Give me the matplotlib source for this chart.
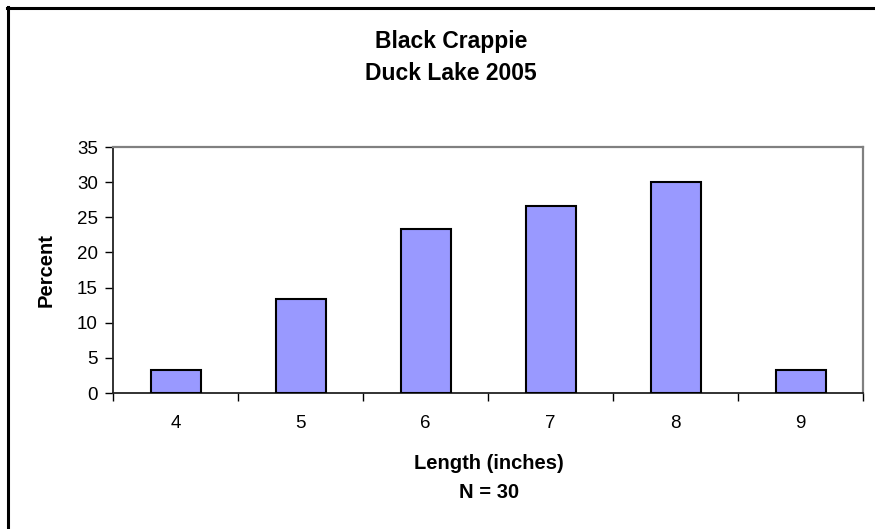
import matplotlib
matplotlib.use("Agg")
import matplotlib.pyplot as plt
from matplotlib.lines import Line2D

plt.rcParams['font.family'] = ['Liberation Sans', 'DejaVu Sans']

categories = ['4', '5', '6', '7', '8', '9']
percent = [3.33, 13.33, 23.33, 26.67, 30.0, 3.33]
yticks = [0, 5, 10, 15, 20, 25, 30, 35]
title_lines = ['Black Crappie', 'Duck Lake 2005']
xlabel_lines = ['Length (inches)', 'N = 30']
ylabel = 'Percent'

W, H = 875, 529
fig = plt.figure(figsize=(W / 100, H / 100), dpi=100)

def fx(px):
    return px / W

def fy(py):
    return 1 - py / H

# chart frame (left and top edges visible)
fig.lines.append(Line2D([fx(8), fx(8)], [fy(7), fy(H + 10)], transform=fig.transFigure,
                        color='black', linewidth=2.2))
fig.lines.append(Line2D([fx(7), fx(W + 10)], [fy(8), fy(8)], transform=fig.transFigure,
                        color='black', linewidth=2.2))

ax = fig.add_axes([fx(113), fy(393), fx(863) - fx(113), fy(147) - fy(393)])
x = list(range(len(categories)))
ax.bar(x, percent, width=0.4, color='#9999FF', edgecolor='black', linewidth=1.5, zorder=3)
ax.set_xlim(-0.5, len(categories) - 0.5)
ax.set_ylim(0, 35)
ax.set_yticks(yticks)
ax.set_yticklabels([str(v) for v in yticks], fontsize=13.5)
ax.set_xticks(x)
ax.set_xticklabels(categories, fontsize=13.5)
ax.tick_params(axis='x', length=0, pad=16)
ax.set_xticks([i - 0.5 for i in range(len(categories) + 1)], minor=True)
ax.tick_params(axis='x', which='minor', length=6, direction='out', color='black', width=1)
ax.tick_params(axis='y', length=6, direction='out', color='black', width=1, pad=5)
for s in ['top', 'right']:
    ax.spines[s].set_color('#808080')
    ax.spines[s].set_linewidth(1.6)
for s in ['left', 'bottom']:
    ax.spines[s].set_color('#222222')
    ax.spines[s].set_linewidth(1.3)

fig.text(fx(46), fy(270), ylabel, rotation=90, ha='center', va='center',
         fontsize=14.5, fontweight='bold')
fig.text(fx(489), fy(469), xlabel_lines[0], ha='center', va='baseline',
         fontsize=14.5, fontweight='bold')
fig.text(fx(489), fy(498), xlabel_lines[1], ha='center', va='baseline',
         fontsize=14.5, fontweight='bold')
fig.text(fx(451), fy(48), title_lines[0], ha='center', va='baseline',
         fontsize=16.5, fontweight='bold')
fig.text(fx(451), fy(80), title_lines[1], ha='center', va='baseline',
         fontsize=16.5, fontweight='bold')

fig.savefig('out.png', dpi=100)
